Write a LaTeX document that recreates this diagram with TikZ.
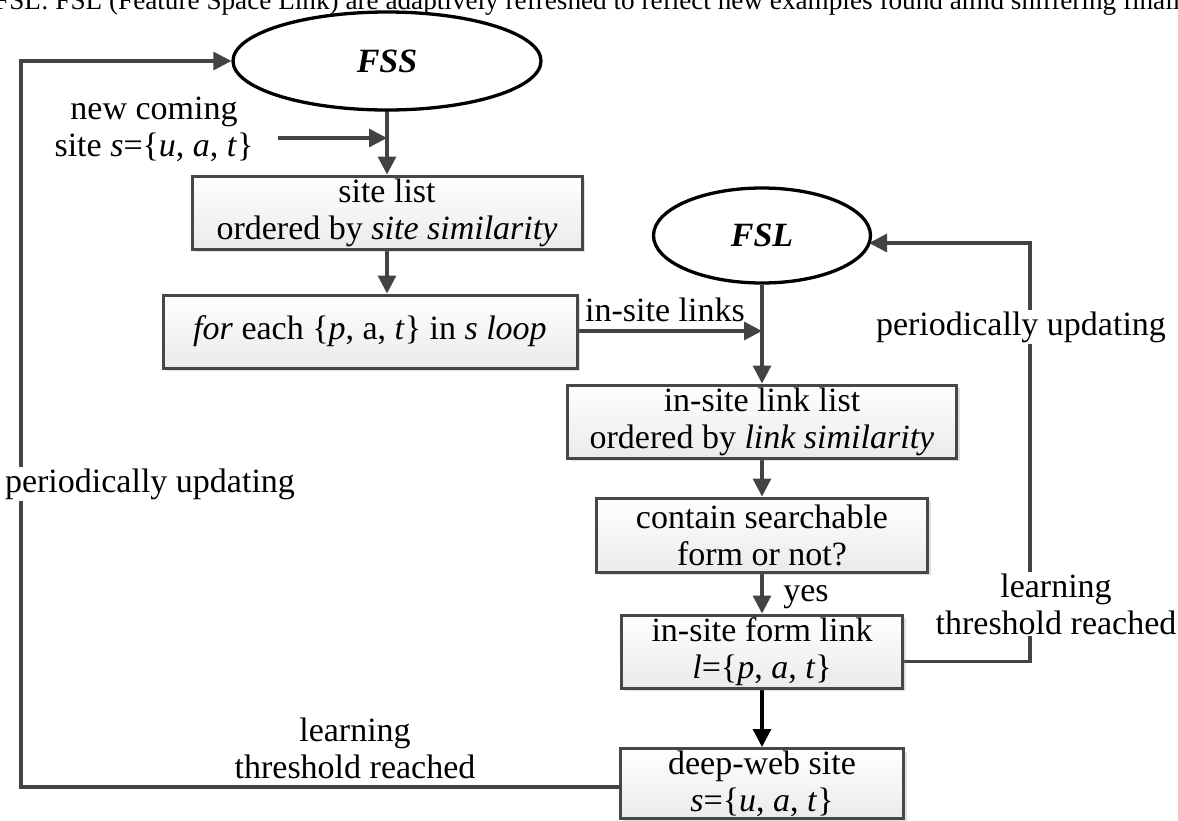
\documentclass[tikz,border=0pt]{standalone}
\usepackage{fontspec}
\setmainfont{Liberation Serif}
\usetikzlibrary{arrows.meta,shapes.geometric,shadows,calc,backgrounds}
\definecolor{ln}{HTML}{434343}
\definecolor{bx}{HTML}{474747}
\tikzset{
  stepbox/.style={draw=bx, line width=3pt, top color=white, bottom color=gray!16,
    align=center, inner sep=0pt,
    drop shadow={shadow xshift=3pt, shadow yshift=-3pt, opacity=0.25, fill=gray}},
  oval/.style={ellipse, draw=black, line width=3.3pt, fill=white, inner sep=0pt},
  conn/.style={draw=ln, line width=3.2pt, -{Triangle[length=18pt,width=18pt]}},
  lbl/.style={align=center, fill=white, inner sep=2pt},
}
\begin{document}
\begin{tikzpicture}[x=1pt,y=-1pt]
\fontsize{34}{37}\selectfont
\useasboundingbox (0,0) rectangle (1178,820);
\node[anchor=base west, inner sep=0pt, font=\fontsize{27.2}{30}\selectfont] (cap) at (-6,9) {FSL: FSL (Feature Space Link) are adaptively refreshed to reflect new examples found amid sniffering finally};

\node[oval, minimum width=308pt, minimum height=98pt] (FSS) at (387,61) {\textbf{\textit{FSS}}};
\node[stepbox, minimum width=390pt, minimum height=73pt] (sitelist) at (387,212.5) {site list\\ordered by \textit{site similarity}};
\node[stepbox, minimum width=414pt, minimum height=73pt] (foreach) at (370,331.5) {\textit{for} each \{\textit{p}, a, \textit{t}\} in \textit{s loop}};
\node[oval, minimum width=217pt, minimum height=95pt] (FSL) at (762,235.5) {\textbf{\textit{FSL}}};
\node[stepbox, minimum width=389pt, minimum height=73pt] (linklist) at (762,421.5) {in-site link list\\ordered by \textit{link similarity}};
\node[stepbox, minimum width=331pt, minimum height=74pt] (contain) at (762,535) {contain searchable\\form or not?};
\node[stepbox, minimum width=281pt, minimum height=73pt] (formlink) at (762,651.5) {in-site form link\\\textit{l}=\{\textit{p}, \textit{a}, \textit{t}\}};
\node[stepbox, minimum width=283pt, minimum height=70pt] (deepweb) at (762,783.5) {deep-web site\\\textit{s}=\{\textit{u}, \textit{a}, \textit{t}\}};

\node[align=center] (newsite) at (154,129) {new coming\\site \textit{s}=\{\textit{u}, \textit{a}, \textit{t}\}};
\coordinate (nsstart) at (278,138);
\coordinate (nsend) at (387,138);
\node (insite) at (665,310) {in-site links};
\node (yes) at (806,597) {yes};
\node[lbl] (perR) at (1021,327) {periodically updating};
\node[lbl] (learnR) at (1056,604) {learning\\threshold reached};
\node[lbl] (perL) at (150,484) {periodically updating};
\node[align=center] (learnL) at (355,748) {learning\\threshold reached};

\coordinate (rc0) at ($(formlink.east)+(0,10)$);
\coordinate (rc1) at (1030,661.5);
\coordinate (rc2) at (1030,243);
\coordinate (rc3) at (869,243);
\coordinate (lc0) at ($(deepweb.west)+(0,3.5)$);
\coordinate (lc1) at (21,787);
\coordinate (lc2) at (21,61);

\begin{scope}[on background layer]
\draw[conn] (FSS.center) -- (sitelist.north);
\draw[conn] (nsstart) -- (nsend);
\draw[conn] (sitelist.south) -- (sitelist.south |- foreach.north);
\draw[conn] (foreach.east |- 0,331) -- (762,331);
\draw[conn] (FSL.south) -- (linklist.north);
\draw[conn] (linklist.south) -- (contain.north);
\draw[conn] (contain.south) -- (formlink.north);
\draw[conn, draw=black] (formlink.south) -- (deepweb.north);
\draw[conn] (rc0) -- (rc1) -- (rc2) -- (rc3);
\draw[conn] (lc0) -- (lc1) -- (lc2) -- (FSS.west);
\end{scope}
\node[lbl] at (perR) {periodically updating};
\node[lbl] at (learnR) {learning\\threshold reached};
\node[lbl] at (perL) {periodically updating};
\end{tikzpicture}
\end{document}
